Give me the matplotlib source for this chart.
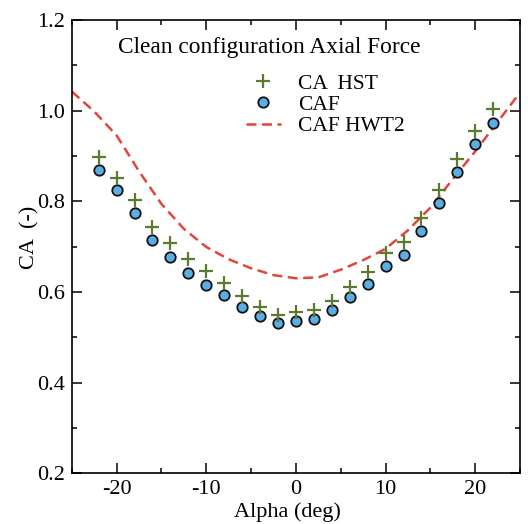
import matplotlib
matplotlib.use('Agg')
import matplotlib.pyplot as plt
from matplotlib.ticker import MultipleLocator

plt.rcParams['font.family'] = ['Liberation Serif', 'DejaVu Serif']

# Angles of attack for the two measured sets
alpha = [-22, -20, -18, -16, -14, -12, -10, -8, -6, -4, -2, 0,
         2, 4, 6, 8, 10, 12, 14, 16, 18, 20, 22]

ca_hst = [0.898, 0.852, 0.802, 0.744, 0.707, 0.672, 0.647, 0.620, 0.591, 0.566, 0.549, 0.556,
          0.560, 0.580, 0.611, 0.644, 0.686, 0.709, 0.762, 0.825, 0.894, 0.956, 1.003]

caf = [0.869, 0.824, 0.774, 0.714, 0.678, 0.641, 0.616, 0.592, 0.567, 0.547, 0.532, 0.536,
       0.541, 0.561, 0.589, 0.617, 0.658, 0.681, 0.734, 0.795, 0.865, 0.926, 0.973]

# Wind tunnel curve
alpha_hwt2 = [-25, -22.5, -20, -17.5, -15, -12.5, -10, -7.5, -5, -2.5, 0,
              2.5, 5, 7.5, 10, 12.5, 15, 17.5, 20, 22.5, 25]
caf_hwt2 = [1.042, 0.998, 0.945, 0.866, 0.794, 0.739, 0.699, 0.672, 0.652, 0.637, 0.630,
            0.632, 0.649, 0.670, 0.695, 0.736, 0.786, 0.849, 0.910, 0.975, 1.040]

fig = plt.figure(figsize=(5.28, 5.24), dpi=100)
ax = fig.add_axes([0.136, 0.097, 0.849, 0.865])

ax.plot(alpha_hwt2, caf_hwt2, linestyle=(0, (4, 2.2)), color='#e2453a', lw=1.8,
        label='CAF HWT2', zorder=2)
ax.plot(alpha, ca_hst, linestyle='none', marker='+', markersize=10, mew=1.6,
        color='#5e7a30', label='CA  HST', zorder=4)
ax.plot(alpha, caf, linestyle='none', marker='o', markersize=7.5, mew=1.3,
        markerfacecolor='#5aaee3', markeredgecolor='#111111', label='CAF', zorder=3)

ax.set_xlim(-25, 25)
ax.set_ylim(0.2, 1.2)
ax.xaxis.set_major_locator(MultipleLocator(10))
ax.xaxis.set_minor_locator(MultipleLocator(5))
ax.yaxis.set_major_locator(MultipleLocator(0.2))
ax.yaxis.set_minor_locator(MultipleLocator(0.1))
ax.yaxis.set_major_formatter(plt.FuncFormatter(lambda v, p: f'{v:.1f}'))
ax.xaxis.set_major_formatter(plt.FuncFormatter(lambda v, p: f'{v:.0f}'))

ax.tick_params(which='both', direction='in', top=True, right=True, labelsize=16)
ax.tick_params(which='major', length=7, width=1.1, pad=5)
ax.tick_params(which='minor', length=3.5, width=1.1)
for s in ax.spines.values():
    s.set_linewidth(1.2)

ax.set_xlabel('Alpha (deg)', fontsize=16)
ax.xaxis.set_label_coords(0.482, -0.065)
ax.set_ylabel('CA  (-)', fontsize=16)
ax.yaxis.set_label_coords(-0.071, 0.52)

ax.text(0.103, 0.94, 'Clean configuration Axial Force', transform=ax.transAxes,
        fontsize=16.8, va='center', ha='left')

handles, labels = ax.get_legend_handles_labels()
order = [1, 2, 0]
ax.legend([handles[i] for i in order], [labels[i] for i in order],
          loc='upper left', bbox_to_anchor=(0.365, 0.905), frameon=False,
          fontsize=15.5, handlelength=1.6, handletextpad=0.8,
          labelspacing=0.05, borderpad=0)

fig.savefig('out.png', dpi=100)
